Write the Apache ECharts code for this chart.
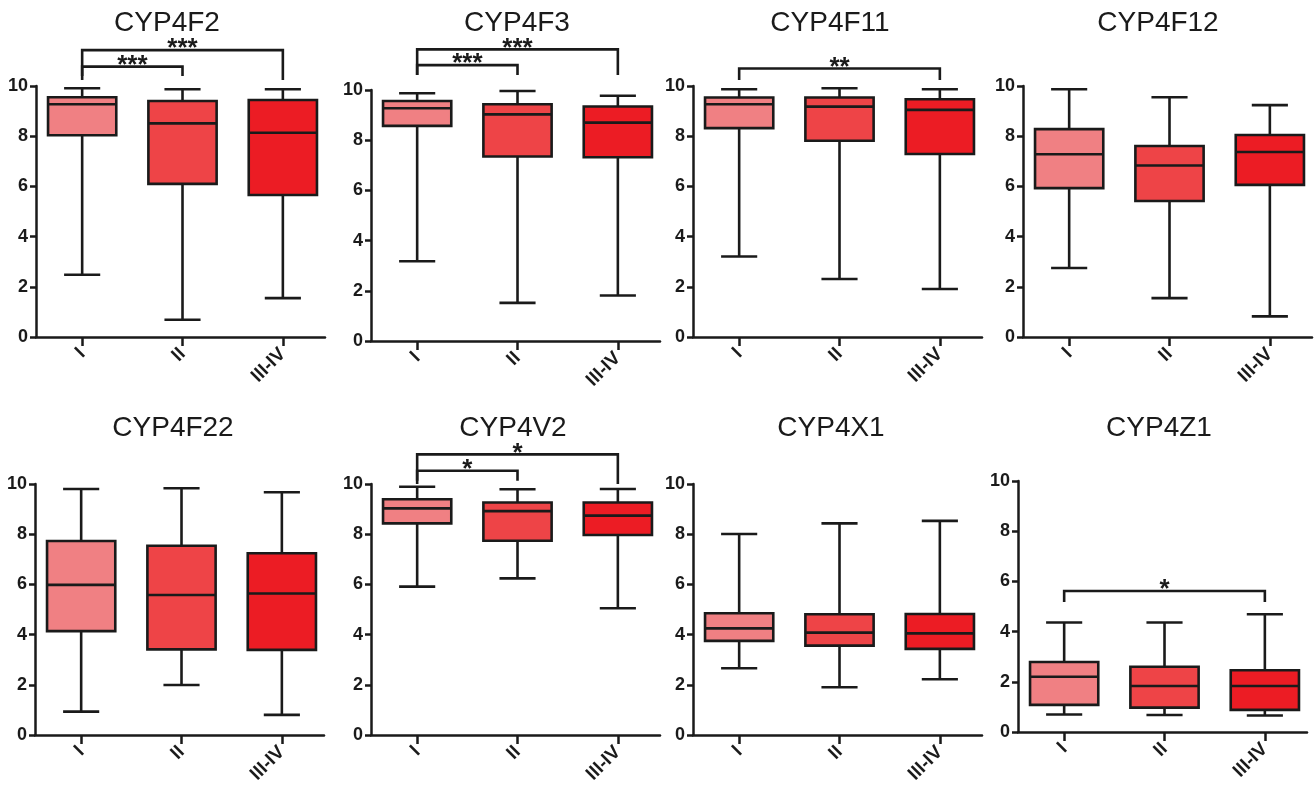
<!DOCTYPE html>
<html>
<head>
<meta charset="utf-8">
<script src="https://cdn.jsdelivr.net/npm/echarts@6/dist/echarts.min.js"></script>
<style>
  html, body { margin: 0; padding: 0; background: #fff; }
  #chart { width: 1314px; height: 786px; }
</style>
</head>
<body>
<div id="chart"></div>
<script>
// stages on the x axis
const stages = ['I', 'II', 'III-IV'];
const genes = ['CYP4F2', 'CYP4F3', 'CYP4F11', 'CYP4F12', 'CYP4F22', 'CYP4V2', 'CYP4X1', 'CYP4Z1'];
const yTicks = [0, 2, 4, 6, 8, 10];

// [min, Q1, median, Q3, max] for each stage
const cyp4f2 = [[2.48, 8.04, 9.27, 9.55, 9.91], [0.69, 6.10, 8.51, 9.40, 9.87], [1.55, 5.66, 8.14, 9.44, 9.87]];
const cyp4f3 = [[3.18, 8.57, 9.27, 9.56, 9.87], [1.52, 7.35, 9.03, 9.43, 9.96], [1.81, 7.32, 8.70, 9.34, 9.77]];
const cyp4f11 = [[3.21, 8.32, 9.27, 9.54, 9.87], [2.31, 7.82, 9.18, 9.54, 9.91], [1.91, 7.29, 9.05, 9.47, 9.87]];
const cyp4f12 = [[2.75, 5.93, 7.28, 8.28, 9.87], [1.55, 5.42, 6.83, 7.61, 9.55], [0.82, 6.06, 7.37, 8.05, 9.24]];
const cyp4f22 = [[0.93, 4.14, 5.98, 7.73, 9.80], [1.99, 3.41, 5.58, 7.54, 9.83], [0.80, 3.39, 5.64, 7.24, 9.67]];
const cyp4v2 = [[5.91, 8.43, 9.03, 9.39, 9.89], [6.24, 7.74, 8.92, 9.26, 9.79], [5.05, 7.97, 8.74, 9.26, 9.80]];
const cyp4x1 = [[2.66, 3.75, 4.25, 4.85, 8.01], [1.90, 3.56, 4.08, 4.81, 8.43], [2.22, 3.43, 4.05, 4.82, 8.53]];
const cyp4z1 = [[0.70, 1.08, 2.20, 2.79, 4.36], [0.68, 0.97, 1.83, 2.60, 4.36], [0.66, 0.88, 1.83, 2.46, 4.69]];

// significance brackets: [from stage, to stage, bar height, end height, stars]
const sig4f2 = [[0, 1, 10.77, 10.4, '***'], [0, 2, 11.43, 10.24, '***']];
const sig4f3 = [[0, 1, 10.99, 10.6, '***'], [0, 2, 11.62, 10.6, '***']];
const sig4f11 = [[0, 2, 10.70, 10.24, '**']];
const sig4v2 = [[0, 1, 10.53, 10.13, '*'], [0, 2, 11.18, 10.0, '*']];
const sig4z1 = [[0, 2, 5.62, 5.18, '*']];

const stats = [cyp4f2, cyp4f3, cyp4f11, cyp4f12, cyp4f22, cyp4v2, cyp4x1, cyp4z1];
const sigs = [sig4f2, sig4f3, sig4f11, [], [], sig4v2, [], sig4z1];

const stageColors = ['#F08083', '#EE4447', '#EC1C24'];
const ink = '#1a1a1a';
const fontFamily = '"Liberation Sans", Arial, sans-serif';

// panel layout: grid left/top, title centre
const panels = [
  { left: 36, top: 86, tx: 167, ty: 23.5 },
  { left: 371, top: 90, tx: 517, ty: 23.5 },
  { left: 693, top: 86, tx: 830, ty: 23.5 },
  { left: 1023, top: 86, tx: 1158, ty: 23.5 },
  { left: 35, top: 484, tx: 173, ty: 428 },
  { left: 371, top: 484, tx: 513, ty: 428 },
  { left: 693, top: 484, tx: 831, ty: 428 },
  { left: 1018, top: 481, tx: 1159, ty: 428 },
];
const gridW = 289;
const gridH = 251;

function renderBox(params, api) {
  const x = api.value(0);
  const pt = (d) => api.coord([x, api.value(d)]);
  const lo = pt(1), q1 = pt(2), md = pt(3), q3 = pt(4), hi = pt(5);
  const cx = lo[0];
  const hb = api.size([0.68, 0])[0] / 2;
  const hc = api.size([0.36, 0])[0] / 2;
  const line = { stroke: ink, lineWidth: 2.6 };
  return {
    type: 'group',
    children: [
      { type: 'line', shape: { x1: cx, y1: hi[1], x2: cx, y2: q3[1] }, style: line },
      { type: 'line', shape: { x1: cx, y1: q1[1], x2: cx, y2: lo[1] }, style: line },
      { type: 'line', shape: { x1: cx - hc, y1: hi[1], x2: cx + hc, y2: hi[1] }, style: line },
      { type: 'line', shape: { x1: cx - hc, y1: lo[1], x2: cx + hc, y2: lo[1] }, style: line },
      {
        type: 'rect',
        shape: { x: cx - hb, y: q3[1], width: hb * 2, height: q1[1] - q3[1] },
        style: { fill: stageColors[x], stroke: ink, lineWidth: 2.6 },
      },
      { type: 'line', shape: { x1: cx - hb, y1: md[1], x2: cx + hb, y2: md[1] }, style: line },
    ],
  };
}

function makeBracketRenderer(list) {
  return function (params, api) {
    const a = api.value(0), b = api.value(1), top = api.value(2), end = api.value(3);
    const p1 = api.coord([a, top]), p2 = api.coord([b, top]);
    const l = api.coord([a, end]), r = api.coord([b, end]);
    return {
      type: 'group',
      children: [
        {
          type: 'polyline',
          shape: { points: [l, p1, p2, r] },
          style: { stroke: ink, lineWidth: 2.6, fill: null },
        },
        {
          type: 'text',
          x: (p1[0] + p2[0]) / 2,
          y: p1[1] - 1,
          style: {
            text: list[params.dataIndex][4],
            align: 'center',
            verticalAlign: 'middle',
            font: 'bold 26px ' + fontFamily,
            fill: ink,
          },
        },
      ],
    };
  };
}

const grid = [], xAxis = [], yAxis = [], series = [], graphic = [];
panels.forEach((p, i) => {
  grid.push({ left: p.left, top: p.top, width: gridW, height: gridH, outerBoundsMode: 'none' });
  xAxis.push({
    gridIndex: i,
    type: 'value',
    min: -0.46,
    max: 2.42,
    splitLine: { show: false },
    axisLine: { onZero: false, lineStyle: { color: ink, width: 2.5 } },
    axisTick: { customValues: [0, 1, 2], length: 9, lineStyle: { color: ink, width: 2.5 } },
    axisLabel: {
      customValues: [0, 1, 2],
      formatter: (v) => stages[Math.round(v)] || '',
      rotate: 45,
      margin: 14,
      color: ink,
      fontWeight: 'bold',
      fontSize: 19,
      fontFamily,
    },
  });
  yAxis.push({
    gridIndex: i,
    type: 'value',
    min: yTicks[0],
    max: yTicks[yTicks.length - 1],
    interval: 2,
    splitLine: { show: false },
    axisLine: { show: true, onZero: false, lineStyle: { color: ink, width: 2.5 } },
    axisTick: { show: true, length: 6, lineStyle: { color: ink, width: 2.5 } },
    axisLabel: { margin: 8, color: ink, fontWeight: 'bold', fontSize: 18, fontFamily },
  });
  series.push({
    type: 'custom',
    xAxisIndex: i,
    yAxisIndex: i,
    silent: true,
    renderItem: renderBox,
    data: stats[i].map((s, k) => [k].concat(s)),
  });
  if (sigs[i].length) {
    series.push({
      type: 'custom',
      xAxisIndex: i,
      yAxisIndex: i,
      silent: true,
      clip: false,
      renderItem: makeBracketRenderer(sigs[i]),
      data: sigs[i].map((b) => b.slice(0, 4)),
    });
  }
  graphic.push({
    type: 'text',
    x: p.tx,
    y: p.ty,
    style: {
      text: genes[i],
      align: 'center',
      verticalAlign: 'middle',
      font: '28px ' + fontFamily,
      fill: ink,
    },
  });
});

const chart = echarts.init(document.getElementById('chart'));
chart.setOption({
  animation: false,
  backgroundColor: '#fff',
  grid,
  xAxis,
  yAxis,
  series,
  graphic,
});
</script>
</body>
</html>
